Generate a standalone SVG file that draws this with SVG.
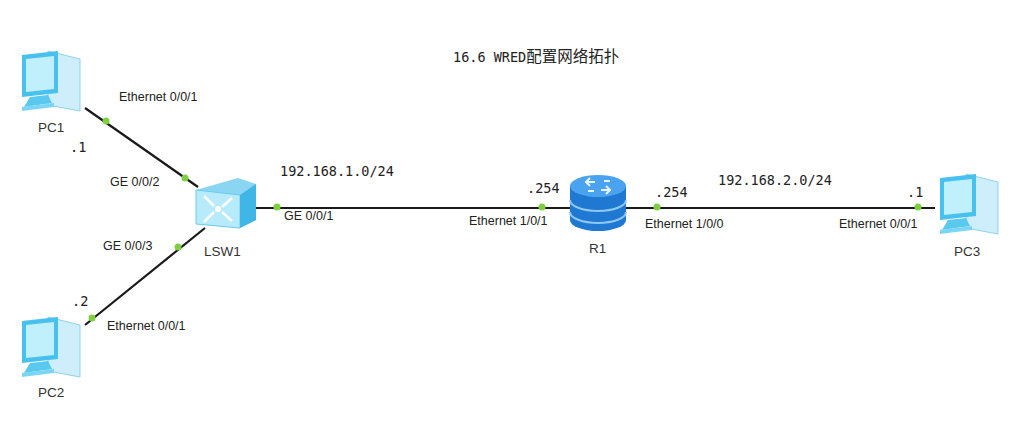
<svg xmlns="http://www.w3.org/2000/svg" width="1024" height="426" viewBox="0 0 1024 426">
<style>
.l{font-family:"Liberation Sans",Arial,sans-serif;font-size:12.5px;fill:#222}
.n{font-family:"Liberation Sans",Arial,sans-serif;font-size:13.5px;fill:#333}
.m{font-family:"DejaVu Sans Mono","Liberation Mono",monospace;font-size:13.5px;fill:#222}
.ln{stroke:#1a1a1a;stroke-width:2.2;fill:none}
.d{fill:#7ed040}
</style>
<defs>
<g id="pc">
<path d="M30 2 L62 10 L62 62 L30 56 Z" fill="#cdeefa" stroke="#8fd2ee"/>
<path d="M4 6 L40 2 L40 44 L4 48 Z" fill="#48c1ee"/>
<path d="M8 10 L36 7 L36 40 L8 43 Z" fill="#bff0fc"/>
<path d="M12 48 L30 46 L34 54 L6 58 Z" fill="#5ac9f0"/>
<path d="M4 58 L36 54 L36 58 L4 62 Z" fill="#7bd5f5"/>
</g>
</defs>
<rect width="1024" height="426" fill="#fff"/>
<text x="453" y="62" class="m">16.6 WRED<tspan font-family="Noto Sans CJK SC,sans-serif" font-size="15.5">配置网络拓扑</tspan></text>
<g id="connectors">
<line class="ln" x1="85" y1="108" x2="198" y2="187"/>
<line class="ln" x1="85" y1="325" x2="205" y2="228"/>
<line class="ln" x1="255" y1="208" x2="570" y2="208"/>
<line class="ln" x1="625" y1="208" x2="935" y2="208"/>
<circle class="d" cx="106" cy="121" r="3.5"/>
<circle class="d" cx="185" cy="178" r="3.5"/>
<circle class="d" cx="178" cy="247" r="3.5"/>
<circle class="d" cx="92" cy="318" r="3.5"/>
<circle class="d" cx="277" cy="207" r="3.5"/>
<circle class="d" cx="542" cy="207" r="3.5"/>
<circle class="d" cx="657" cy="207" r="3.5"/>
<circle class="d" cx="918" cy="207" r="3.5"/>
<text x="119" y="101" class="l">Ethernet 0/0/1</text>
<text x="70" y="152" class="m">.1</text>
<text x="110" y="186" class="l">GE 0/0/2</text>
<text x="103" y="250" class="l">GE 0/0/3</text>
<text x="72" y="306" class="m">.2</text>
<text x="107" y="330" class="l">Ethernet 0/0/1</text>
<text x="280" y="176" class="m">192.168.1.0/24</text>
<text x="284" y="220" class="l">GE 0/0/1</text>
<text x="527" y="193" class="m">.254</text>
<text x="469" y="225" class="l">Ethernet 1/0/1</text>
<text x="655" y="197" class="m">.254</text>
<text x="645" y="228" class="l">Ethernet 1/0/0</text>
<text x="718" y="185" class="m">192.168.2.0/24</text>
<text x="907" y="197" class="m">.1</text>
<text x="839" y="228" class="l">Ethernet 0/0/1</text>
</g>
<g id="PC1"><use href="#pc" x="18" y="49"/><text x="38" y="132" class="n">PC1</text></g>
<g id="PC2"><use href="#pc" x="18" y="315"/><text x="38" y="397" class="n">PC2</text></g>
<g id="PC3"><use href="#pc" x="936" y="172"/><text x="954" y="256" class="n">PC3</text></g>
<g id="LSW1">
<path d="M196 190 L238 178 L256 184 L256 220 L240 228 L196 224 Z" fill="#8ad6f2"/>
<path d="M196 190 L240 195 L240 228 L196 224 Z" fill="#b7eafb" stroke="#6ccbee"/>
<path d="M240 195 L256 184 L256 220 L240 228 Z" fill="#3fb6e6"/>
<path d="M204 196 L214 206 M232 198 L222 207 M204 222 L214 212 M232 221 L222 212" stroke="#fff" stroke-width="2.5"/>
<circle cx="218" cy="209" r="3" fill="#fff"/>
<text x="204" y="256" class="n">LSW1</text>
</g>
<g id="R1">
<path d="M570 186 V220 A28 11 0 0 0 626 220 V186 Z" fill="#1f78d1"/>
<path d="M570 200 A28 11 0 0 0 626 200 M570 212 A28 11 0 0 0 626 212" stroke="#8fc8f5" stroke-width="2" fill="none"/>
<ellipse cx="598" cy="186" rx="28" ry="11" fill="#4aa3ee"/>
<path d="M585 182 L595 182 M590 178 L586 182 L590 186 M611 190 L601 190 M606 186 L610 190 L606 194 M594 191 L588 191 M604 181 L610 181" stroke="#e6f4ff" stroke-width="2" fill="none"/>
<text x="589" y="253" class="n">R1</text>
</g>
</svg>
